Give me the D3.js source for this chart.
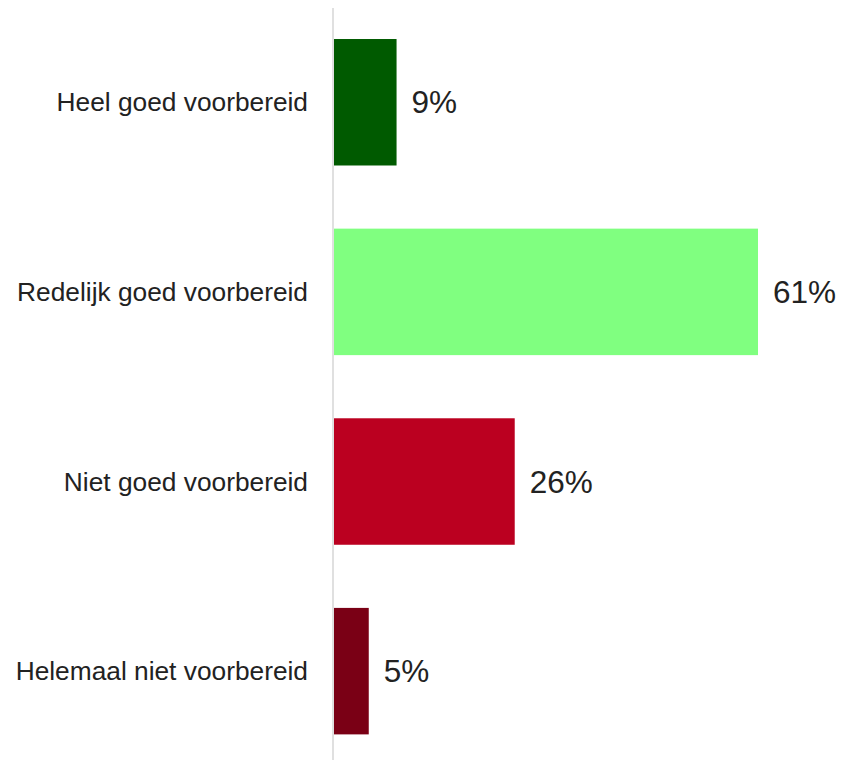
<!DOCTYPE html>
<html><head><meta charset="utf-8">
<script src="https://cdn.jsdelivr.net/npm/d3@7"></script>
<style>html,body{margin:0;padding:0;background:#fff;}</style>
</head><body>
<script>
const categories = ["Heel goed voorbereid","Redelijk goed voorbereid","Niet goed voorbereid","Helemaal niet voorbereid"];
const values = [9, 61, 26, 5];
const colors = ["#005a00","#80ff80","#bb0020","#7a0015"];

const W = 843, H = 760;
const svg = d3.select("body").append("svg").attr("width", W).attr("height", H);

const x = d3.scaleLinear().domain([0, 61]).range([334, 758]);
const y = d3.scaleBand().domain(categories).range([7.4, 766]).paddingInner(0.333).paddingOuter(0.1667);

svg.append("line").attr("x1", 333).attr("x2", 333).attr("y1", 8).attr("y2", H)
  .attr("stroke", "#e0e0e0").attr("stroke-width", 2);

svg.selectAll("rect.bar").data(categories).join("rect").attr("class","bar")
  .attr("x", x(0)).attr("y", d => y(d))
  .attr("width", (d,i) => x(values[i]) - x(0)).attr("height", y.bandwidth())
  .attr("fill", (d,i) => colors[i]);

svg.selectAll("text.cat").data(categories).join("text").attr("class","cat")
  .attr("x", 308).attr("y", d => y(d) + y.bandwidth()/2).attr("dy", "0.35em")
  .attr("text-anchor", "end").attr("font-family", "'Liberation Sans', Arial, sans-serif")
  .attr("font-size", 26.3).attr("fill", "#222").text(d => d);

svg.selectAll("text.val").data(categories).join("text").attr("class","val")
  .attr("x", (d,i) => x(values[i]) + 15).attr("y", d => y(d) + y.bandwidth()/2).attr("dy", "0.35em")
  .attr("font-family", "'Liberation Sans', Arial, sans-serif")
  .attr("font-size", 31.5).attr("fill", "#222").text((d,i) => values[i] + "%");
</script>
</body></html>
